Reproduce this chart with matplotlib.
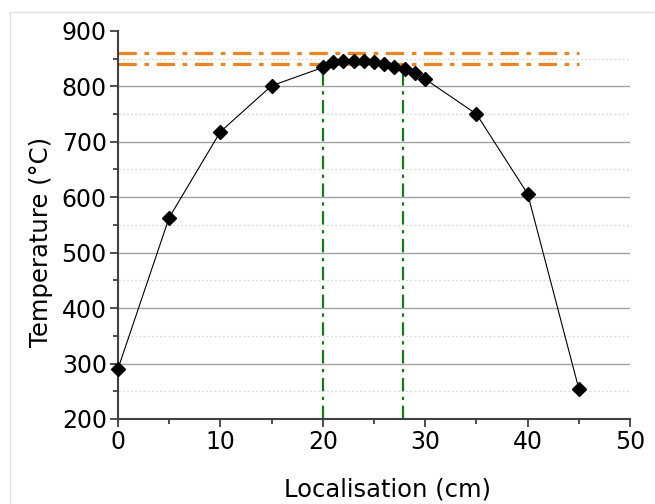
import numpy as np
import matplotlib.pyplot as plt
from matplotlib.lines import Line2D
from matplotlib.ticker import MultipleLocator

# donnees
loc = [0, 5, 10, 15, 20, 21, 22, 23, 24, 25, 26, 27, 28, 29, 30, 35, 40, 45]
temp = [290, 563, 718, 801, 834, 843, 846, 845, 846, 843, 840, 834, 831, 824, 813, 750, 606, 254]

# limites (orange) et zone (vert)
t_lim = [840, 860]
x_lim = [20, 27.8]

fig = plt.figure(figsize=(6.55, 5.04), dpi=100)
ax = fig.add_axes([0.180, 0.1687, 0.782, 0.770])

ax.set_xlim(0, 50)
ax.set_ylim(200, 900)
ax.xaxis.set_major_locator(MultipleLocator(10))
ax.xaxis.set_minor_locator(MultipleLocator(5))
ax.yaxis.set_major_locator(MultipleLocator(100))
ax.yaxis.set_minor_locator(MultipleLocator(50))

# grille : traits pleins 300..800, pointilles aux demi-centaines
for g in range(300, 900, 100):
    ax.axhline(g, color='#a0a0a0', lw=1.0, zorder=0)
for g in range(250, 900, 100):
    ax.axhline(g, color='#dcdcdc', lw=1.0, ls=(0, (1.5, 1.5)), zorder=0)

for t in t_lim:
    ax.plot([0, 45], [t, t], color='#ff7f0e', lw=2.2, ls=(0, (6, 2.5, 1.5, 2.5)), zorder=2)
for xv in x_lim:
    ax.plot([xv, xv], [200, t_lim[0]], color='#0c800c', lw=1.6, ls=(0, (6, 2.5, 1.5, 2.5)), zorder=2)

ax.plot(loc, temp, color='black', lw=0.8, marker='D', ms=7, zorder=3, clip_on=False)

for s in ['top', 'right']:
    ax.spines[s].set_visible(False)
for s in ['left', 'bottom']:
    ax.spines[s].set_color('#404040')
    ax.spines[s].set_linewidth(1.5)

ax.tick_params(which='major', length=6, width=1.3, color='#404040', labelsize=17, pad=2)
ax.tick_params(which='minor', length=3.5, width=1.3, color='#404040')

ax.set_xlabel('Localisation (cm)', fontsize=17.5)
ax.set_ylabel('Temperature (°C)', fontsize=17.5)
ax.xaxis.set_label_coords(0.526, -0.152)
ax.yaxis.set_label_coords(-0.127, 0.456)

# cadre gris clair de la figure
fig.add_artist(Line2D([10/655, 1], [1-12/504, 1-12/504], transform=fig.transFigure, color='#e0e0e0', lw=1))
fig.add_artist(Line2D([10/655, 10/655], [0, 1-12/504], transform=fig.transFigure, color='#e0e0e0', lw=1))

fig.savefig('out.png', dpi=100)
